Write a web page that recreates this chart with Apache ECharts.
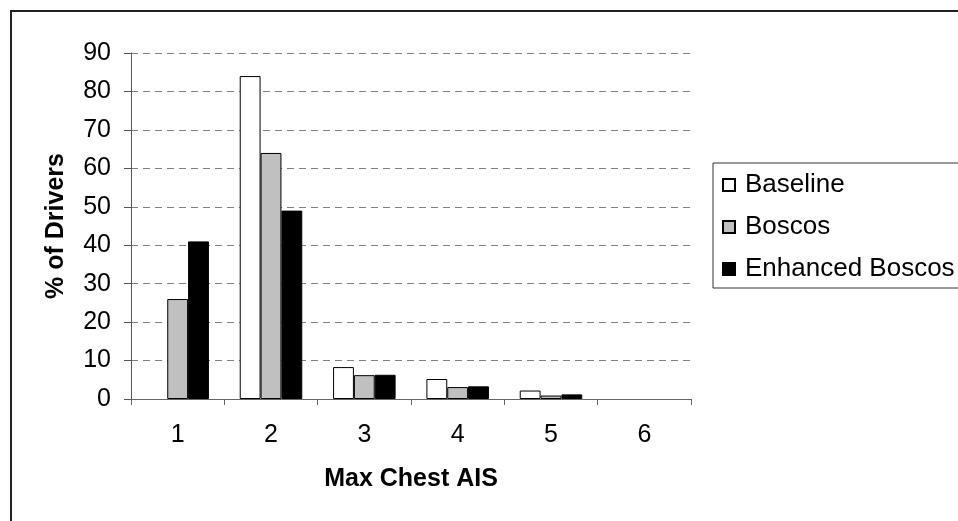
<!DOCTYPE html>
<html>
<head>
<meta charset="utf-8">
<title>Max Chest AIS</title>
<script src="https://cdn.jsdelivr.net/npm/echarts@6/dist/echarts.min.js"></script>
<style>
  html, body { margin: 0; padding: 0; background: #fff; }
  #chart { width: 958px; height: 521px; }
</style>
</head>
<body>
<div id="chart"></div>
<script>
// categories on the x axis
const categories = ['1', '2', '3', '4', '5', '6']
// % of drivers per series
const baseline = [0, 84, 8.3, 5.2, 2.2, 0]
const boscos = [26, 64, 6.2, 3.1, 0.9, 0]
const enhanced = [41, 49, 6.3, 3.3, 1.2, 0]
const seriesNames = ['Baseline', 'Boscos', 'Enhanced Boscos']

const font = 'Liberation Sans, Arial, sans-serif'
const chart = echarts.init(document.getElementById('chart'), null, { renderer: 'canvas' })

function barSeries(name, data, color) {
    return {
        name: name,
        type: 'bar',
        // empty bars get no outline, so nothing is drawn on the axis
        data: data.map(v => v === 0 ? { value: v, itemStyle: { borderWidth: 0 } } : v),
        barGap: 0,
        barCategoryGap: '33%',
        itemStyle: {
            color: color,
            borderColor: '#000',
            borderWidth: 1
        }
    }
}

chart.setOption({
    backgroundColor: '#fff',
    animation: false,
    graphic: [{
        type: 'rect',
        shape: { x: 11, y: 11, width: 1000, height: 600 },
        style: { fill: null, stroke: '#222', lineWidth: 2 },
        silent: true
    }, {
        // legend frame, runs past the right edge like the source
        type: 'rect',
        shape: { x: 713, y: 163, width: 300, height: 125 },
        style: { fill: null, stroke: '#333', lineWidth: 1 },
        silent: true
    }],
    grid: {
        left: 131,
        right: 267,
        top: 53,
        bottom: 122,
        containLabel: false,
        outerBoundsMode: 'none'
    },
    legend: {
        orient: 'vertical',
        left: 722,
        top: 172,
        padding: 0,
        itemGap: 16,
        itemWidth: 12,
        itemHeight: 12,
        icon: 'rect',
        data: seriesNames,
        textStyle: {
            fontFamily: font,
            fontSize: 26,
            color: '#000',
            padding: [0, 0, 0, 5]
        }
    },
    xAxis: {
        type: 'category',
        data: categories,
        name: 'Max Chest AIS',
        nameLocation: 'middle',
        nameGap: 68,
        nameTextStyle: {
            fontFamily: font,
            fontSize: 25,
            fontWeight: 'bold',
            color: '#000'
        },
        axisLine: { lineStyle: { color: '#666', width: 1 } },
        axisTick: { show: true, length: 6, lineStyle: { color: '#666' } },
        axisLabel: {
            margin: 24,
            fontFamily: font,
            fontSize: 25,
            color: '#000'
        }
    },
    yAxis: {
        type: 'value',
        min: 0,
        max: 90,
        interval: 10,
        name: '% of Drivers',
        nameLocation: 'middle',
        nameGap: 62,
        nameTextStyle: {
            fontFamily: font,
            fontSize: 25,
            fontWeight: 'bold',
            color: '#000'
        },
        axisLine: { show: true, lineStyle: { color: '#555', width: 1 } },
        axisTick: { show: true, length: 7, lineStyle: { color: '#555' } },
        axisLabel: {
            margin: 20,
            fontFamily: font,
            fontSize: 25,
            color: '#000'
        },
        splitLine: {
            show: true,
            lineStyle: { color: '#808080', type: [7, 5], width: 1 }
        }
    },
    series: [
        barSeries(seriesNames[0], baseline, '#ffffff'),
        barSeries(seriesNames[1], boscos, '#c0c0c0'),
        barSeries(seriesNames[2], enhanced, '#000000')
    ]
})
</script>
</body>
</html>
